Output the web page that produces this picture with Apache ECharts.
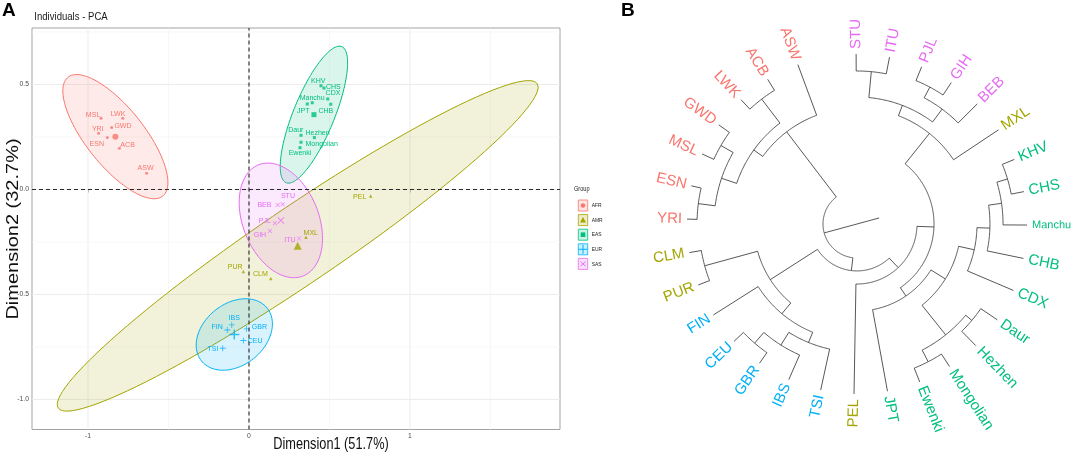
<!DOCTYPE html>
<html><head><meta charset="utf-8">
<script src="https://cdn.jsdelivr.net/npm/echarts@6/dist/echarts.min.js"></script>
<style>html,body{margin:0;padding:0;background:#fff}#c{width:1072px;height:454px}</style>
</head><body><div id="c"></div>
<script>
// ================= DATA =================
const groups = ['AFR', 'AMR', 'EAS', 'EUR', 'SAS'];
const groupColors = ['#F8766D', '#A3A500', '#00BF7D', '#00B0F6', '#E76BF3'];

const afrNames = ['MSL', 'LWK', 'YRI', 'GWD', 'ESN', 'ACB', 'ASW'];
const afrDim1 = [-0.919, -0.784, -0.934, -0.853, -0.880, -0.805, -0.636];
const afrDim2 = [0.339, 0.339, 0.268, 0.295, 0.247, 0.196, 0.077];

const amrNames = ['PEL', 'MXL', 'PUR', 'CLM'];
const amrDim1 = [0.756, 0.354, -0.035, 0.135];
const amrDim2 = [-0.031, -0.228, -0.391, -0.424];

const easNames = ['KHV', 'CHS', 'CDX', 'CHB', 'JPT', 'Manchu', 'Daur', 'Hezhen', 'Mongolian', 'Ewenki'];
const easDim1 = [0.447, 0.466, 0.489, 0.508, 0.362, 0.393, 0.323, 0.406, 0.323, 0.317];
const easDim2 = [0.494, 0.483, 0.431, 0.406, 0.407, 0.413, 0.258, 0.247, 0.225, 0.199];

const eurNames = ['IBS', 'FIN', 'GBR', 'CEU', 'TSI'];
const eurDim1 = [-0.107, -0.135, -0.016, -0.035, -0.163];
const eurDim2 = [-0.645, -0.669, -0.664, -0.719, -0.756];

const sasNames = ['STU', 'BEB', 'PJL', 'GIH', 'ITU'];
const sasDim1 = [0.209, 0.178, 0.161, 0.130, 0.311];
const sasDim2 = [-0.070, -0.074, -0.161, -0.198, -0.233];

const xTicks = [-1, 0, 1];
const yTicks = [-1, -0.5, 0, 0.5];
const xMinor = [-0.5, 0.5, 1.5];
const yMinor = [-0.75, -0.25, 0.25, 0.75];
const ellipseLevel = 0.95;

const titleA = 'Individuals - PCA';
const xName = 'Dimension1 (51.7%)';
const yName = 'Dimension2 (32.7%)';
const legendTitle = 'Group';

// dendrogram (panel B): leaves in drawing order, nested [height, childA, childB]
const leafOrder = ['STU', 'ITU', 'PJL', 'GIH', 'BEB', 'MXL', 'KHV', 'CHS', 'Manchu', 'CHB', 'CDX',
  'Daur', 'Hezhen', 'Mongolian', 'Ewenki', 'JPT', 'PEL', 'TSI', 'IBS', 'GBR', 'CEU', 'FIN',
  'PUR', 'CLM', 'YRI', 'ESN', 'MSL', 'GWD', 'LWK', 'ACB', 'ASW'];
const dendrogram =
  [0.800,
    [0.318,
      [0.253,
        [0.159, [0.059, 'YRI', 'ESN'], [0.076, 'MSL', 'GWD']],
        [0.076, 'LWK', 'ACB']],
      'ASW'],
    [0.724,
      [0.394,
        [0.071, 'CLM', 'PUR'],
        [0.312, 'FIN', [0.247, [0.159, [0.076, 'CEU', 'GBR'], 'IBS'], 'TSI']]],
      [0.647,
        'PEL',
        [0.547,
          [0.318,
            [0.253, [0.100, 'STU', 'ITU'], [0.159, [0.088, 'PJL', 'GIH'], 'BEB']],
            'MXL'],
          [0.488,
            [0.388,
              [0.294, [0.218, [0.141, [0.076, 'KHV', 'CHS'], 'Manchu'], 'CHB'], 'CDX'],
              [0.165, [0.118, 'Daur', 'Hezhen'], [0.088, 'Mongolian', 'Ewenki']]],
            'JPT']]]]];
const rootEdge = 0.335;

// ================= LAYOUT / STYLE =================
const X_RANGE = [-1.348, 1.932];
const Y_RANGE = [-1.143, 0.769];
const ANGLE_SLOTS = 31.77;
const SANS = "'Liberation Sans',Arial,sans-serif";
const labelOffsetPx = {
  MSL: [-8, -3.3], LWK: [-4.7, -4.3], YRI: [-0.9, -4.6], GWD: [11.3, -1.4], ESN: [-10.5, 6.6], ACB: [8.2, -4], ASW: [-1, -5.8],
  KHV: [-2.7, -5.4], CHS: [9.3, -1.7], CDX: [5.3, -6], CHB: [-4.9, 7], JPT: [-4, 6.7], Manchu: [-0.1, -5.4],
  Daur: [-5.2, -5.3], Hezhen: [3.2, -4.7], Mongolian: [20.7, 1.9], Ewenki: [0, 5.6],
  STU: [5.3, -8.3], BEB: [-13.2, 0], PJL: [-10, -2.3], GIH: [-10, 4], ITU: [-9.2, 1.7],
  MXL: [4.8, -5], PEL: [-11, 1.3], PUR: [-8.1, -5], CLM: [-10.4, -4.7],
  IBS: [2.5, -7.3], FIN: [-10.1, -2.7], GBR: [13, -2.5], CEU: [11.7, 0.7], TSI: [-9.9, 0.7]
};
const leafFont = { Manchu: 11 };
const SYM_PLUS = 'path://M4.3,0H5.7V4.3H10V5.7H5.7V10H4.3V5.7H0V4.3H4.3Z';
const SYM_X = 'path://M1,0L5,4L9,0L10,1L6,5L10,9L9,10L5,6L1,10L0,9L4,5L0,1Z';
const groupSymbols = ['circle', 'triangle', 'rect', SYM_PLUS, SYM_X];
const pointSizes = [3, 3.5, 3, 6, 4.5];
const meanSizes = [6, 8, 5, 10, 7];
const FILL_ALPHA = 0.15;

function rgba(hex, a) {
  const n = parseInt(hex.slice(1), 16);
  return 'rgba(' + (n >> 16 & 255) + ',' + (n >> 8 & 255) + ',' + (n & 255) + ',' + a + ')';
}

const groupSets = [
  { names: afrNames, x: afrDim1, y: afrDim2 },
  { names: amrNames, x: amrDim1, y: amrDim2 },
  { names: easNames, x: easDim1, y: easDim2 },
  { names: eurNames, x: eurDim1, y: eurDim2 },
  { names: sasNames, x: sasDim1, y: sasDim2 }
];

function mean(a) { return a.reduce((s, v) => s + v, 0) / a.length; }
function ellipse(xs, ys, level, seg) {
  const n = xs.length, mx = mean(xs), my = mean(ys);
  let a = 0, b = 0, c = 0;
  for (let i = 0; i < n; i++) { const dx = xs[i] - mx, dy = ys[i] - my; a += dx * dx; b += dx * dy; c += dy * dy; }
  a /= (n - 1); b /= (n - 1); c /= (n - 1);
  const d = n - 1;
  const qf = (d / 2) * (Math.pow(1 - level, -2 / d) - 1);
  const r = Math.sqrt(2 * qf);
  const r11 = Math.sqrt(a), r12 = b / r11, r22 = Math.sqrt(Math.max(c - r12 * r12, 0));
  const pts = [];
  for (let k = 0; k <= seg; k++) {
    const t = 2 * Math.PI * k / seg, ct = Math.cos(t), st = Math.sin(t);
    pts.push([mx + r * ct * r11, my + r * (ct * r12 + st * r22)]);
  }
  return pts;
}

// ---------- series ----------
const series = [];

// grid lines
series.push({
  type: 'custom', coordinateSystem: 'cartesian2d', z: 1, silent: true, data: [[0, 0]],
  renderItem: function (p, api) {
    const ch = [];
    const add = (p1, p2, major) => ch.push({ type: 'line', shape: { x1: p1[0], y1: p1[1], x2: p2[0], y2: p2[1] },
      style: { stroke: major ? '#EAEAEA' : '#F2F2F2', lineWidth: major ? 0.9 : 0.6 } });
    xMinor.forEach(v => add(api.coord([v, Y_RANGE[0]]), api.coord([v, Y_RANGE[1]]), false));
    yMinor.forEach(v => add(api.coord([X_RANGE[0], v]), api.coord([X_RANGE[1], v]), false));
    xTicks.forEach(v => add(api.coord([v, Y_RANGE[0]]), api.coord([v, Y_RANGE[1]]), true));
    yTicks.forEach(v => add(api.coord([X_RANGE[0], v]), api.coord([X_RANGE[1], v]), true));
    return { type: 'group', children: ch };
  }
});

// ellipses
groupSets.forEach((g, gi) => {
  const ell = ellipse(g.x, g.y, ellipseLevel, 120);
  series.push({
    type: 'custom', coordinateSystem: 'cartesian2d', z: 2, silent: true, clip: true,
    data: [[mean(g.x), mean(g.y)]],
    renderItem: function (p, api) {
      return { type: 'polygon', shape: { points: ell.map(q => api.coord(q)) },
        style: { fill: rgba(groupColors[gi], FILL_ALPHA), stroke: groupColors[gi], lineWidth: 1 } };
    }
  });
});

// points + centroids
groupSets.forEach((g, gi) => {
  series.push({
    type: 'scatter', z: 3, silent: true, symbol: groupSymbols[gi], symbolSize: pointSizes[gi],
    itemStyle: { color: groupColors[gi] },
    data: g.names.map((nm, i) => ({ name: nm, value: [g.x[i], g.y[i]] }))
  });
  series.push({
    type: 'scatter', z: 3, silent: true, symbol: groupSymbols[gi], symbolSize: meanSizes[gi],
    itemStyle: { color: groupColors[gi] },
    data: [[mean(g.x), mean(g.y)]]
  });
});

// point labels (condensed text)
const allPts = [];
groupSets.forEach((g, gi) => g.names.forEach((nm, i) => allPts.push({ name: nm, gi: gi, x: g.x[i], y: g.y[i] })));
series.push({
  type: 'custom', coordinateSystem: 'cartesian2d', z: 4, silent: true,
  data: allPts.map(p => [p.x, p.y]),
  renderItem: function (params, api) {
    const p = allPts[params.dataIndex];
    const c = api.coord([api.value(0), api.value(1)]);
    const off = labelOffsetPx[p.name] || [0, -6];
    return { type: 'text', x: c[0] + off[0], y: c[1] + off[1], scaleX: 0.88,
      style: { text: p.name, fill: groupColors[p.gi], font: '8px ' + SANS, align: 'center', verticalAlign: 'middle' } };
  }
});

// dashed zero lines
series.push({
  type: 'custom', coordinateSystem: 'cartesian2d', z: 5, silent: true, data: [[0, 0]],
  renderItem: function (p, api) {
    const a = api.coord([0, Y_RANGE[0]]), b = api.coord([0, Y_RANGE[1]]);
    const c = api.coord([X_RANGE[0], 0]), d = api.coord([X_RANGE[1], 0]);
    const st = { stroke: '#2a2a2a', lineWidth: 1.1, lineDash: [4, 3] };
    return { type: 'group', children: [
      { type: 'line', shape: { x1: a[0], y1: a[1], x2: b[0], y2: b[1] }, style: st },
      { type: 'line', shape: { x1: c[0], y1: c[1], x2: d[0], y2: d[1] }, style: st }
    ] };
  }
});

// dendrogram
function leafGroup(name) {
  for (let gi = 0; gi < groupSets.length; gi++) if (groupSets[gi].names.indexOf(name) >= 0) return gi;
  return 0;
}
const dNodes = [];
function layoutTree(node) {
  if (typeof node === 'string') return { v: leafOrder.indexOf(node), h: 0 };
  const ca = layoutTree(node[1]), cb = layoutTree(node[2]);
  const res = { v: (ca.v + cb.v) / 2, h: node[0] };
  dNodes.push({ h: node[0], ch: [ca, cb] });
  return res;
}
const rootPos = layoutTree(dendrogram);

series.push({
  type: 'custom', coordinateSystem: 'polar', polarIndex: 0, z: 2, silent: true, data: [[0.5, 0]],
  renderItem: function (p, api) {
    const ch = [];
    const lineSt = { stroke: '#3a3a3a', lineWidth: 0.85, fill: 'none' };
    dNodes.forEach(n => {
      const lo = Math.min(n.ch[0].v, n.ch[1].v), hi = Math.max(n.ch[0].v, n.ch[1].v);
      const steps = Math.max(2, Math.ceil((hi - lo) / 0.05));
      const pts = [];
      for (let k = 0; k <= steps; k++) pts.push(api.coord([n.h, lo + (hi - lo) * k / steps]));
      ch.push({ type: 'polyline', shape: { points: pts }, style: lineSt });
      n.ch.forEach(c => {
        const a = api.coord([n.h, c.v]), b = api.coord([c.h, c.v]);
        ch.push({ type: 'line', shape: { x1: a[0], y1: a[1], x2: b[0], y2: b[1] }, style: lineSt });
      });
    });
    const r1 = api.coord([rootPos.h, rootPos.v]), r2 = api.coord([rootPos.h + rootEdge, rootPos.v]);
    ch.push({ type: 'line', shape: { x1: r1[0], y1: r1[1], x2: r2[0], y2: r2[1] }, style: lineSt });
    const cen = api.coord([1, 0]);
    leafOrder.forEach((nm, i) => {
      const tip = api.coord([0, i]);
      const dx = tip[0] - cen[0], dy = tip[1] - cen[1];
      const len = Math.sqrt(dx * dx + dy * dy), ux = dx / len, uy = dy / len;
      const ang = Math.atan2(-dy, dx) * 180 / Math.PI;
      const right = ang > -90 && ang <= 91;
      const rot = right ? ang : ang - 180;
      ch.push({ type: 'text', x: tip[0] + ux * 5, y: tip[1] + uy * 5, rotation: rot * Math.PI / 180,
        style: { text: nm, fill: groupColors[leafGroup(nm)], font: (leafFont[nm] || 15) + 'px ' + SANS,
          align: right ? 'left' : 'right', verticalAlign: 'middle' } });
    });
    return { type: 'group', children: ch };
  }
});

// legend graphics
const legendEls = [{ type: 'text', x: 574, y: 189, scaleX: 0.8,
  style: { text: legendTitle, font: '7px ' + SANS, fill: '#222', verticalAlign: 'middle' } }];
groups.forEach((gname, gi) => {
  const cy = 205.5 + gi * 14.6, cx = 583, col = groupColors[gi];
  legendEls.push({ type: 'rect', shape: { x: 578.3, y: cy - 5.5, width: 9.4, height: 11 },
    style: { fill: rgba(col, 0.2), stroke: col, lineWidth: 0.8 } });
  let sym;
  if (gi === 0) sym = { type: 'circle', shape: { cx: cx, cy: cy, r: 2.2 }, style: { fill: col } };
  else if (gi === 1) sym = { type: 'polygon', shape: { points: [[cx, cy - 3], [cx + 3, cy + 2.5], [cx - 3, cy + 2.5]] }, style: { fill: col } };
  else if (gi === 2) sym = { type: 'rect', shape: { x: cx - 2.3, y: cy - 2.3, width: 4.6, height: 4.6 }, style: { fill: col } };
  else if (gi === 3) sym = { type: 'group', children: [
    { type: 'line', shape: { x1: cx - 4.5, y1: cy, x2: cx + 4.5, y2: cy }, style: { stroke: col, lineWidth: 1 } },
    { type: 'line', shape: { x1: cx, y1: cy - 4.5, x2: cx, y2: cy + 4.5 }, style: { stroke: col, lineWidth: 1 } }] };
  else sym = { type: 'group', children: [
    { type: 'line', shape: { x1: cx - 2.5, y1: cy - 2.5, x2: cx + 2.5, y2: cy + 2.5 }, style: { stroke: col, lineWidth: 1 } },
    { type: 'line', shape: { x1: cx - 2.5, y1: cy + 2.5, x2: cx + 2.5, y2: cy - 2.5 }, style: { stroke: col, lineWidth: 1 } }] };
  legendEls.push(sym);
  legendEls.push({ type: 'text', x: 591.7, y: cy, scaleX: 0.85,
    style: { text: gname, font: '5.8px ' + SANS, fill: '#222', verticalAlign: 'middle' } });
});

const option = {
  animation: false,
  backgroundColor: '#fff',
  grid: { left: 32, top: 28, width: 528, height: 401.5, containLabel: false, outerBoundsMode: 'none',
    show: true, borderColor: '#A3A3A3', borderWidth: 1, backgroundColor: 'transparent' },
  xAxis: {
    type: 'value', min: X_RANGE[0], max: X_RANGE[1], splitLine: { show: false }, axisLine: { show: false },
    axisTick: { show: true, customValues: xTicks, length: 3, lineStyle: { color: '#999' } },
    axisLabel: { customValues: xTicks, formatter: v => String(v), fontSize: 6.8, fontFamily: SANS, color: '#4D4D4D', margin: 3 }
  },
  yAxis: {
    type: 'value', min: Y_RANGE[0], max: Y_RANGE[1], splitLine: { show: false }, axisLine: { show: false },
    axisTick: { show: true, customValues: yTicks, length: 3, lineStyle: { color: '#999' } },
    axisLabel: { customValues: yTicks, formatter: v => v.toFixed(1), fontSize: 6.8, fontFamily: SANS, color: '#4D4D4D', margin: 3 }
  },
  polar: { center: [857, 224], radius: [0, 170] },
  angleAxis: { type: 'value', min: 0, max: ANGLE_SLOTS, startAngle: 90.3, clockwise: true, show: false },
  radiusAxis: { type: 'value', min: 0, max: 1, inverse: true, show: false },
  graphic: [
    { type: 'text', left: 2, top: 1, style: { text: 'A', font: 'bold 19px ' + SANS, fill: '#000' } },
    { type: 'text', left: 621, top: 1, style: { text: 'B', font: 'bold 19px ' + SANS, fill: '#000' } },
    { type: 'text', x: 34.3, y: 16.7, scaleX: 0.87, style: { text: titleA, font: '11px ' + SANS, fill: '#1a1a1a', verticalAlign: 'middle' } },
    { type: 'text', x: 331, y: 444, scaleX: 0.75, style: { text: xName, font: '17px ' + SANS, fill: '#111', align: 'center', verticalAlign: 'middle' } },
    { type: 'text', x: 13, y: 229, rotation: Math.PI / 2, scaleY: 0.85, style: { text: yName, font: '20px ' + SANS, fill: '#111', align: 'center', verticalAlign: 'middle' } }
  ].concat(legendEls),
  series: series
};

const chart = echarts.init(document.getElementById('c'), null, { renderer: 'canvas' });
chart.setOption(option);
</script></body></html>
